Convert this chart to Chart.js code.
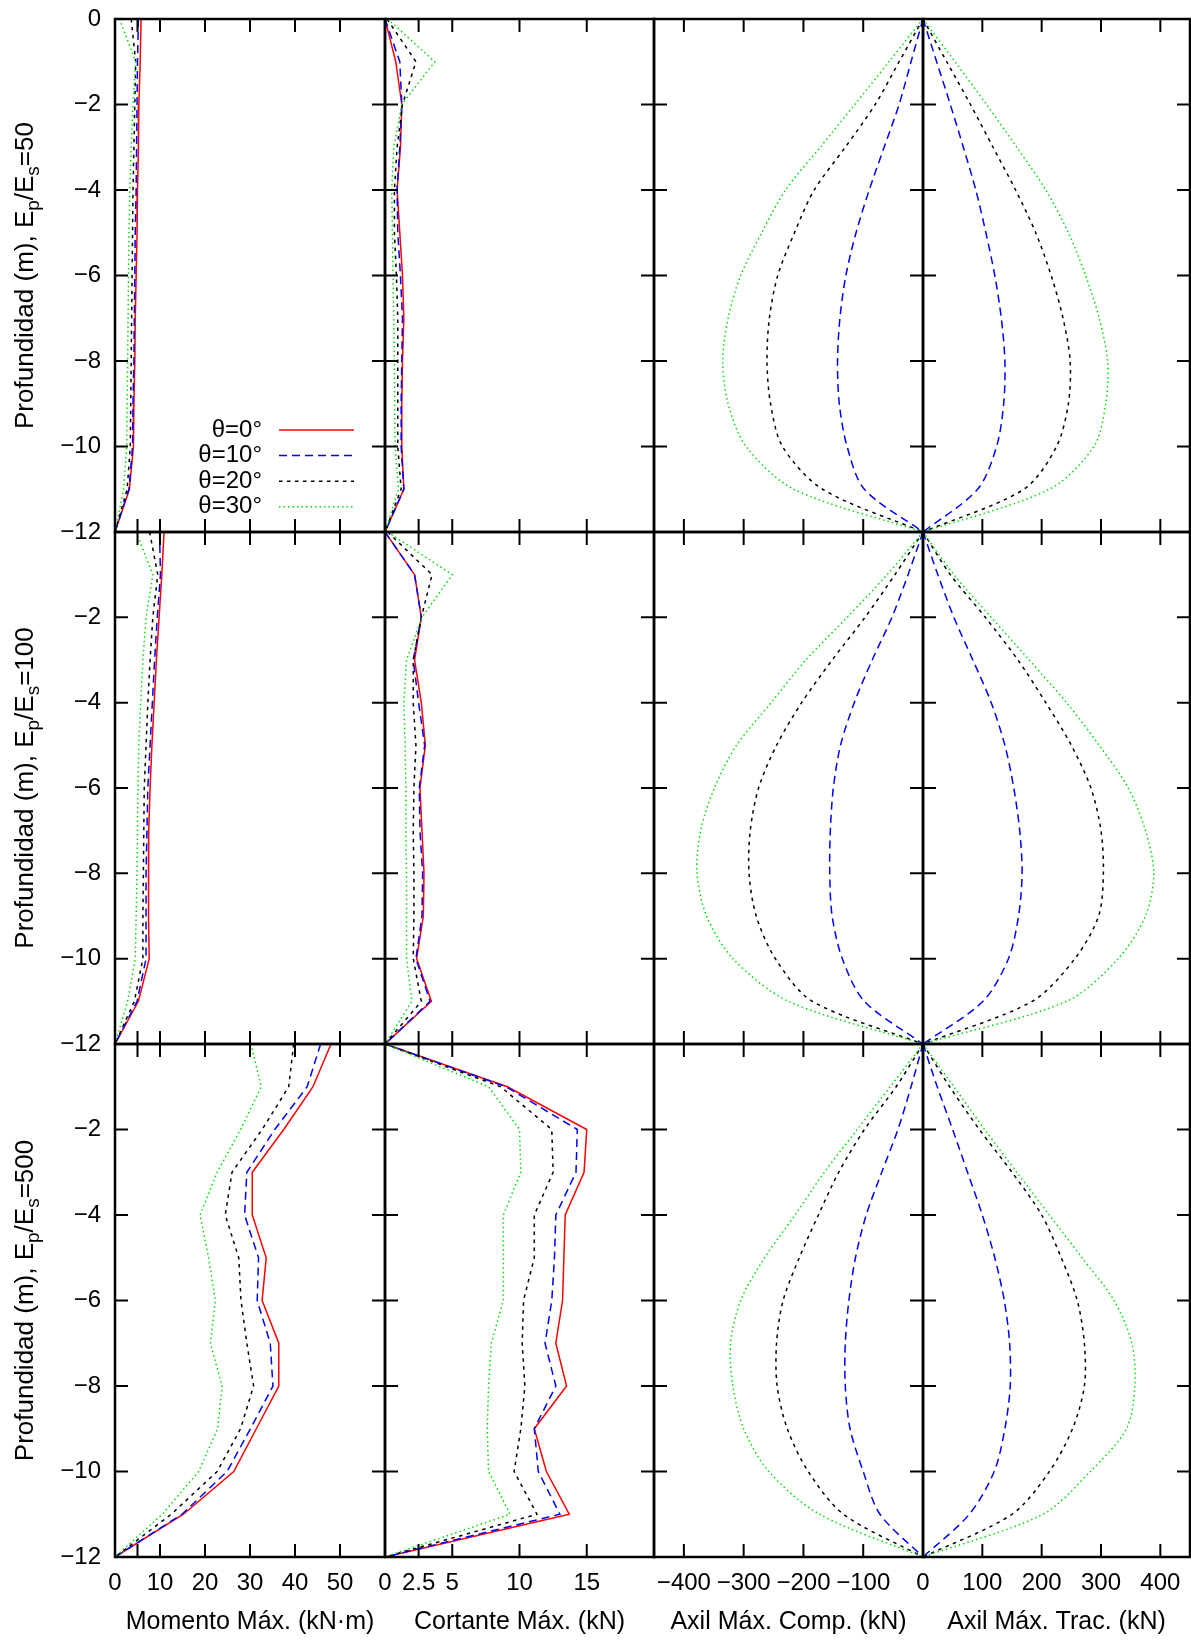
<!DOCTYPE html>
<html>
<head>
<meta charset="utf-8">
<script src="https://cdn.jsdelivr.net/npm/chart.js@4.4.0/dist/chart.umd.min.js"></script>
<style>
  body { margin: 0; background: #fff; }
  #fig { position: relative; width: 1191px; height: 1641px; overflow: hidden; }
  #fig canvas { position: absolute; }
</style>
</head>
<body>
<div id="fig"></div>
<script>
// profundidad de cada punto (m)
const depths = [0, -1, -2, -3, -4, -5, -6, -7, -8, -9, -10, -11, -12];
const depthTicks = [-2, -4, -6, -8, -10];
const angles = ['θ=0°', 'θ=10°', 'θ=20°', 'θ=30°'];
const ratios = ['50', '100', '500'];

// Momento máximo (kN·m): filas = θ 0, 10, 20, 30
const mom50 = [
  [5.8, 5.6, 5.3, 5.2, 5.0, 4.9, 4.7, 4.5, 4.4, 4.2, 4.1, 3.2, 0],
  [5.2, 5.0, 4.9, 4.8, 4.7, 4.5, 4.4, 4.3, 4.2, 4.0, 3.9, 3.1, 0],
  [3.6, 4.6, 4.4, 4.2, 4.0, 3.9, 3.8, 3.7, 3.6, 3.5, 3.4, 2.7, 0],
  [1.0, 4.6, 4.0, 3.6, 3.3, 3.1, 3.0, 2.9, 2.8, 2.7, 2.6, 1.9, 0]
];
const mom100 = [
  [10.9, 10.4, 9.8, 9.2, 8.7, 8.2, 7.8, 7.5, 7.4, 7.5, 7.6, 5.2, 0],
  [9.9, 10.1, 9.4, 8.8, 8.3, 7.8, 7.3, 7.1, 6.9, 6.9, 6.9, 4.9, 0],
  [7.7, 9.5, 8.4, 7.8, 7.3, 6.9, 6.5, 6.4, 6.3, 6.2, 6.2, 4.3, 0],
  [4.7, 8.4, 6.9, 6.2, 5.7, 5.3, 5.1, 5.0, 4.9, 4.7, 4.5, 2.8, 0]
];
const mom500 = [
  [48.0, 44.0, 37.5, 30.5, 30.5, 33.6, 32.7, 36.4, 36.4, 31.4, 26.4, 15.2, 0],
  [45.7, 42.7, 35.5, 29.3, 28.8, 31.9, 31.6, 34.5, 35.1, 30.1, 24.9, 14.9, 0],
  [39.7, 38.6, 32.7, 26.0, 24.5, 27.5, 28.0, 29.3, 30.8, 27.9, 22.7, 12.5, 0],
  [30.2, 32.5, 27.9, 22.7, 18.9, 20.8, 22.3, 21.2, 23.8, 22.8, 18.6, 10.5, 0]
];

// Cortante máximo (kN)
const cor50 = [
  [0, 0.8, 1.25, 1.15, 0.9, 1.1, 1.3, 1.4, 1.3, 1.25, 1.25, 1.4, 0],
  [0, 1.1, 1.25, 1.1, 0.9, 0.95, 1.15, 1.3, 1.25, 1.2, 1.2, 1.4, 0],
  [0.15, 2.3, 1.3, 0.9, 0.7, 0.7, 0.85, 0.95, 0.95, 0.95, 0.95, 1.2, 0],
  [0.2, 3.7, 1.25, 0.65, 0.5, 0.55, 0.6, 0.65, 0.7, 0.72, 0.75, 1.0, 0]
];
const cor100 = [
  [0, 2.2, 2.7, 2.2, 2.7, 3.0, 2.6, 2.75, 2.9, 2.85, 2.35, 3.45, 0],
  [0, 2.2, 2.7, 2.1, 2.5, 2.95, 2.55, 2.6, 2.8, 2.75, 2.3, 3.35, 0],
  [0.2, 3.5, 2.7, 2.1, 2.1, 2.3, 2.15, 2.1, 2.15, 2.15, 2.1, 2.7, 0],
  [0.2, 5.0, 2.75, 1.6, 1.4, 1.5, 1.55, 1.55, 1.6, 1.6, 1.6, 2.0, 0]
];
const cor500 = [
  [0, 9.1, 15.0, 14.8, 13.4, 13.3, 13.2, 12.7, 13.5, 11.1, 12.0, 13.7, 0],
  [0, 9.0, 14.3, 14.2, 12.7, 12.6, 12.4, 11.9, 12.7, 11.1, 11.4, 13.0, 0],
  [0, 8.6, 12.4, 12.5, 11.1, 11.1, 10.3, 10.2, 10.4, 10.1, 9.6, 11.3, 0],
  [0, 7.7, 10.0, 10.1, 8.8, 8.8, 8.8, 7.9, 7.7, 7.6, 7.7, 9.3, 0]
];

// Axil máximo de compresión (kN)
const comp50 = [
  [0, 0, 0, 0, 0, 0, 0, 0, 0, 0, 0, 0, 0],
  [0, -20, -40, -65, -90, -112, -129, -139, -143, -140, -127, -98, 0],
  [0, -40, -80, -130, -182, -215, -243, -257, -261, -255, -235, -168, 0],
  [0, -57, -114, -172, -230, -270, -305, -326, -335, -326, -296, -216, 0]
];
const comp100 = [
  [0, 0, 0, 0, 0, 0, 0, 0, 0, 0, 0, 0, 0],
  [0, -25, -52, -85, -115, -138, -150, -155, -156, -152, -135, -98, 0],
  [0, -47, -97, -152, -203, -245, -275, -289, -291, -279, -247, -185, 0],
  [0, -60, -127, -196, -254, -312, -349, -372, -378, -362, -318, -225, 0]
];
const comp500 = [
  [0, 0, 0, 0, 0, 0, 0, 0, 0, 0, 0, 0, 0],
  [0, -20, -42, -69, -95, -113, -124, -130, -130, -122, -100, -72, 0],
  [0, -45, -98, -141, -175, -207, -234, -245, -244, -227, -192, -133, 0],
  [0, -55, -110, -165, -214, -265, -305, -322, -318, -300, -258, -173, 0]
];

// Axil máximo de tracción (kN)
const trac50 = [
  [0, 0, 0, 0, 0, 0, 0, 0, 0, 0, 0, 0, 0],
  [0, 23, 46, 68, 89, 106, 121, 132, 138, 136, 124, 92, 0],
  [0, 40, 80, 118, 156, 190, 216, 236, 248, 245, 225, 170, 0],
  [0, 54, 107, 158, 207, 245, 274, 297, 311, 308, 288, 213, 0]
];
const trac100 = [
  [0, 0, 0, 0, 0, 0, 0, 0, 0, 0, 0, 0, 0],
  [0, 25, 52, 84, 115, 138, 153, 163, 167, 161, 144, 101, 0],
  [0, 46, 105, 160, 207, 250, 283, 300, 304, 296, 256, 184, 0],
  [0, 52, 115, 179, 242, 297, 346, 375, 389, 375, 329, 242, 0]
];
const trac500 = [
  [0, 0, 0, 0, 0, 0, 0, 0, 0, 0, 0, 0, 0],
  [0, 24, 50, 75, 100, 121, 137, 146, 147, 138, 120, 78, 0],
  [0, 45, 95, 150, 200, 233, 260, 272, 272, 252, 213, 150, 0],
  [0, 52, 104, 158, 213, 268, 322, 352, 357, 343, 282, 202, 0]
];

// ticks de cada columna
const momTicks = [0, 5, 10, 20, 30, 40, 50];
const corTicks = [0, 2.5, 5, 10, 15];
const compTicks = [-400, -300, -200, -100];
const tracTicks = [0, 100, 200, 300, 400];

const columns = [
  { title: 'Momento Máx. (kN·m)', min: 0, max: 60, ticks: momTicks, data: [mom50, mom100, mom500], tension: 0 },
  { title: 'Cortante Máx. (kN)', min: 0, max: 20, ticks: corTicks, data: [cor50, cor100, cor500], tension: 0 },
  { title: 'Axil Máx. Comp. (kN)', min: -450, max: 0, ticks: compTicks, data: [comp50, comp100, comp500], tension: 0.3 },
  { title: 'Axil Máx. Trac. (kN)', min: 0, max: 450, ticks: tracTicks, data: [trac50, trac100, trac500], tension: 0.3 }
];

const colors = ['#ff0000', '#0000ff', '#000000', '#00dd00'];
const dashes = [[], [8, 5], [3.5, 4.5], [1.5, 3]];

// posiciones de los paneles en la página
const colX = [115, 385, 654, 923, 1190];
const rowY = [19, 532, 1044, 1557];
const M = 40;   // margen del canvas alrededor de cada panel
const TICK = 13;
const FONT = '"Liberation Sans", Arial, Helvetica, sans-serif';

Chart.defaults.font.family = FONT;
Chart.defaults.color = '#000';

function fmt(v) {
  return v < 0 ? '\u2212' + Math.abs(v) : String(v);
}

// marco y ticks hacia dentro
const framePlugin = {
  id: 'frame',
  afterDatasetsDraw(chart, args, opts) {
    const { ctx, chartArea: a, scales: { x, y } } = chart;
    ctx.save();
    ctx.strokeStyle = '#000';
    ctx.lineWidth = 2;
    ctx.beginPath();
    opts.xTicks.forEach(v => {
      const px = x.getPixelForValue(v);
      if (px <= a.left + 1 || px >= a.right - 1) return;
      ctx.moveTo(px, a.bottom); ctx.lineTo(px, a.bottom - TICK);
      ctx.moveTo(px, a.top); ctx.lineTo(px, a.top + TICK);
    });
    depthTicks.forEach(v => {
      const py = y.getPixelForValue(v);
      ctx.moveTo(a.left, py); ctx.lineTo(a.left + TICK, py);
      ctx.moveTo(a.right, py); ctx.lineTo(a.right - TICK, py);
    });
    ctx.stroke();
    ctx.lineWidth = 2.5;
    ctx.strokeRect(a.left, a.top, a.right - a.left, a.bottom - a.top);
    ctx.restore();
  }
};

// título vertical con subíndices
const depthTitle = {
  id: 'depthTitle',
  afterDraw(chart, args, opts) {
    if (!opts.ratio) return;
    const { ctx, chartArea: a } = chart;
    const big = '26px ' + FONT, small = '19px ' + FONT;
    const parts = [['Profundidad (m), E', 0], ['p', 1], ['/E', 0], ['s', 1], ['=' + opts.ratio, 0]];
    ctx.save();
    let total = 0;
    parts.forEach(([t, sub]) => { ctx.font = sub ? small : big; total += ctx.measureText(t).width; });
    ctx.translate(33, (a.top + a.bottom) / 2);
    ctx.rotate(-Math.PI / 2);
    ctx.fillStyle = '#000';
    ctx.textBaseline = 'alphabetic';
    let xx = -total / 2;
    parts.forEach(([t, sub]) => {
      ctx.font = sub ? small : big;
      ctx.fillText(t, xx, sub ? 6 : 0);
      xx += ctx.measureText(t).width;
    });
    ctx.restore();
  }
};

// leyenda dentro del primer panel
const legendBox = {
  id: 'legendBox',
  afterDraw(chart, args, opts) {
    if (!opts.show) return;
    const ctx = chart.ctx;
    const dy = opts.offsetY;
    ctx.save();
    chart.data.datasets.forEach((ds, i) => {
      const yy = 430 + i * 25.6 + dy;
      ctx.font = '24px ' + FONT;
      ctx.fillStyle = '#000';
      ctx.textAlign = 'right';
      ctx.textBaseline = 'middle';
      ctx.fillText(ds.label, 262, yy);
      ctx.setLineDash(ds.borderDash);
      ctx.strokeStyle = ds.borderColor;
      ctx.lineWidth = ds.borderWidth;
      ctx.beginPath();
      ctx.moveTo(279, yy);
      ctx.lineTo(354, yy);
      ctx.stroke();
    });
    ctx.restore();
  }
};

const fig = document.getElementById('fig');

function makePanel(r, c) {
  const col = columns[c];
  const left = c === 0 ? 0 : colX[c] - M;
  const right = colX[c + 1] + M;
  const top = rowY[r] - M;
  const bottom = r === 2 ? 1641 : rowY[r + 1] + M;

  const canvas = document.createElement('canvas');
  canvas.width = right - left;
  canvas.height = bottom - top;
  canvas.style.left = left + 'px';
  canvas.style.top = top + 'px';
  canvas.style.width = (right - left) + 'px';
  canvas.style.height = (bottom - top) + 'px';
  fig.appendChild(canvas);

  const datasets = col.data[r].map((vals, i) => ({
    label: angles[i],
    data: vals.map((v, k) => ({ x: v, y: depths[k] })),
    showLine: true,
    borderColor: colors[i],
    borderDash: dashes[i],
    borderWidth: 1.5,
    pointRadius: 0,
    tension: col.tension,
    fill: false,
    order: 3 - i
  }));

  new Chart(canvas, {
    type: 'scatter',
    data: { datasets },
    options: {
      responsive: false,
      animation: false,
      devicePixelRatio: 1,
      events: [],
      layout: {
        padding: {
          left: c === 0 ? 0 : M,
          right: M,
          top: M,
          bottom: r === 2 ? 0 : M
        }
      },
      plugins: {
        legend: { display: false },
        tooltip: { enabled: false },
        frame: { xTicks: col.ticks },
        depthTitle: { ratio: c === 0 ? ratios[r] : null },
        legendBox: { show: r === 0 && c === 0, offsetY: -top }
      },
      scales: {
        x: {
          type: 'linear',
          min: col.min,
          max: col.max,
          display: r === 2,
          grid: { display: false, drawTicks: false },
          border: { display: false },
          afterBuildTicks: s => { s.ticks = col.ticks.map(v => ({ value: v })); },
          afterFit: r === 2 ? (s => { s.height = 1641 - rowY[3]; }) : undefined,
          ticks: {
            autoSkip: false,
            maxRotation: 0,
            padding: 12,
            font: { size: 24 },
            callback: v => (c === 0 && v === 5) ? '' : fmt(v)
          },
          title: {
            display: true,
            text: col.title,
            font: { size: 25 },
            padding: { top: 0, bottom: 4 }
          }
        },
        y: {
          type: 'linear',
          min: -12,
          max: 0,
          display: c === 0,
          grid: { display: false, drawTicks: false },
          border: { display: false },
          afterFit: c === 0 ? (s => { s.width = colX[0]; }) : undefined,
          ticks: {
            stepSize: 2,
            autoSkip: false,
            padding: 14,
            font: { size: 24 },
            callback: v => (r > 0 && v === 0) ? '' : fmt(v)
          }
        }
      }
    },
    plugins: [framePlugin, depthTitle, legendBox]
  });
}

for (let r = 0; r < 3; r++) {
  for (let c = 0; c < 4; c++) {
    makePanel(r, c);
  }
}
</script>
</body>
</html>
